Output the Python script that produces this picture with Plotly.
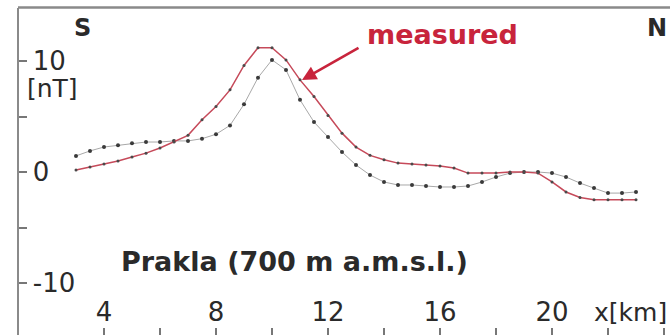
import plotly.graph_objects as go

# ---- data ----
x_km = [3.0, 3.5, 4.0, 4.5, 5.0, 5.5, 6.0, 6.5, 7.0, 7.5, 8.0, 8.5, 9.0, 9.5, 10.0,
        10.5, 11.0, 11.5, 12.0, 12.5, 13.0, 13.5, 14.0, 14.5, 15.0, 15.5, 16.0, 16.5,
        17.0, 17.5, 18.0, 18.5, 19.0, 19.5, 20.0, 20.5, 21.0, 21.5, 22.0, 22.5, 23.0]
measured = [0.18, 0.45, 0.72, 1.0, 1.35, 1.7, 2.16, 2.7, 3.3, 4.7, 5.9, 7.4, 9.6, 11.2, 11.2,
            10.1, 8.3, 6.8, 5.1, 3.5, 2.25, 1.5, 1.1, 0.8, 0.72, 0.63, 0.55, 0.36,
            -0.1, -0.1, -0.1, 0.0, 0.0, -0.1, -0.9, -1.8, -2.3, -2.5, -2.5, -2.5, -2.5]
modelled = [1.45, 1.9, 2.25, 2.4, 2.6, 2.7, 2.7, 2.8, 2.8, 3.0, 3.4, 4.2, 6.1, 8.5, 10.1,
            9.2, 6.5, 4.5, 3.15, 1.8, 0.63, -0.27, -0.9, -1.17, -1.17, -1.26, -1.35, -1.35,
            -1.26, -0.9, -0.45, -0.1, 0.0, 0.0, -0.1, -0.45, -1.0, -1.45, -1.9, -1.9, -1.8]

x_tickvals = [4, 6, 8, 10, 12, 14, 16, 18, 20, 22, 24]
x_ticktext = ["4", "", "8", "", "12", "", "16", "", "20", "", ""]
y_tickvals = [-10, -5, 0, 5, 10]
y_ticktext = ["-10", "", "0", "", "10"]

W, H = 670, 335
def px(x):
    return x / W
def py(y):
    return 1 - y / H

FONT = "DejaVu Sans"
TXT = "#2a2a2a"
RED = "#c8243c"

fig = go.Figure()
fig.add_trace(go.Scatter(
    x=x_km, y=modelled, mode="lines+markers",
    line=dict(color="#a8a8a8", width=1),
    marker=dict(color="#3a3a3a", size=4),
    showlegend=False))
fig.add_trace(go.Scatter(
    x=x_km, y=measured, mode="lines+markers",
    line=dict(color="#c64a5a", width=1.5),
    marker=dict(color="#4a4a4a", size=3),
    showlegend=False))

fig.update_layout(
    width=W, height=H,
    margin=dict(l=0, r=0, t=0, b=0),
    paper_bgcolor="white", plot_bgcolor="white",
    font=dict(family=FONT, color=TXT),
    xaxis=dict(range=[27/28, 678/28], domain=[19/W, 1],
               showgrid=False, zeroline=False, showline=False,
               ticks="inside", ticklen=7, tickwidth=1.5, tickcolor="#777",
               tickvals=x_tickvals, ticktext=x_ticktext,
               ticklabelposition="inside", ticklabelstandoff=4,
               tickfont=dict(size=26, color=TXT, family=FONT)),
    yaxis=dict(range=[(172 - 335) / 11.1, (172 - 7.5) / 11.1], domain=[0, 1 - 7.5 / H],
               showgrid=False, zeroline=False, showline=True,
               linecolor="#8a8a8a", linewidth=2,
               ticks="inside", ticklen=8, tickwidth=1.5, tickcolor="#777",
               tickvals=y_tickvals, ticktext=y_ticktext,
               ticklabelposition="inside", ticklabelstandoff=8,
               tickfont=dict(size=26, color=TXT, family=FONT)),
)

fig.add_shape(type="line", xref="paper", yref="paper",
              x0=px(18), x1=1, y0=py(7.5), y1=py(7.5),
              line=dict(color="#8a8a8a", width=2.5))

anns = [
    dict(text="<b>S</b>", x=px(82), y=py(28), size=24, color=TXT, xanchor="center"),
    dict(text="<b>N</b>", x=px(669), y=py(28), size=24, color=TXT, xanchor="right"),
    dict(text="<b>measured</b>", x=px(442), y=py(35), size=27, color=RED, xanchor="center"),
    dict(text="<b>Prakla (700 m a.m.s.l.)</b>", x=px(294), y=py(261), size=27, color=TXT, xanchor="center"),
    dict(text="[nT]", x=px(25), y=py(89), size=25, color=TXT, xanchor="left"),
    dict(text="x[km]", x=px(669), y=py(312), size=25, color=TXT, xanchor="right"),
]
for a in anns:
    fig.add_annotation(text=a["text"], x=a["x"], y=a["y"], xref="paper", yref="paper",
                       xanchor=a["xanchor"], yanchor="middle", showarrow=False,
                       font=dict(size=a["size"], color=a["color"], family=FONT))

# arrow pointing to the measured curve
fig.add_annotation(x=(302 + 8) / 28, y=(172 - 80) / 11.1, xref="x", yref="y",
                   text="", showarrow=True, ax=58, ay=-33,
                   arrowhead=2, arrowsize=1.1, arrowwidth=2.6, arrowcolor=RED)

fig.write_html("out.html", config={"displayModeBar": False},
               post_script="document.body.style.margin='0';document.body.style.overflow='hidden';")
